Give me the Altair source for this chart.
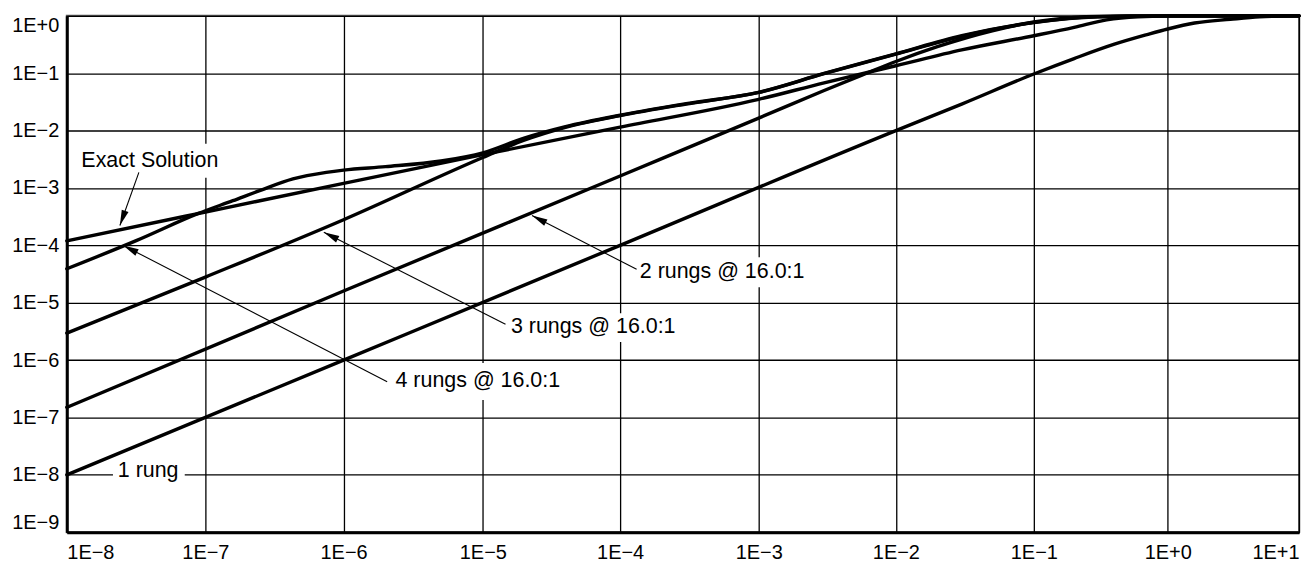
import math
import altair as alt
import pandas as pd

# ---------------- data ----------------
one_x = [1e-8, 1e-6, 1e-4, 1e-2, 3e-2, 0.1, 0.2, 0.4, 0.7, 1.0, 1.6, 3.0, 5.0, 10.0]
one_y = [1e-8, 1e-6, 1e-4, 1e-2, 0.029, 0.097, 0.18, 0.32, 0.47, 0.59, 0.75, 0.87, 0.96, 1.0]

two_x = [1e-8, 1e-6, 1e-4, 1e-3, 3e-3, 6e-3, 1e-2, 2e-2, 5e-2, 0.1, 0.2, 0.5, 1.0, 10.0]
two_y = [1.5e-7, 1.6e-5, 1.62e-3, 0.0165, 0.05, 0.098, 0.16, 0.29, 0.55, 0.78, 0.94, 0.995, 1.0, 1.0]

three_x = [1e-8, 1e-7, 1e-6, 1e-5, 2e-5, 4e-5, 1e-4, 3e-4, 1e-3, 3e-3, 1e-2, 3e-2, 0.1, 0.3, 1.0, 10.0]
three_y = [2.95e-6, 2.8e-5, 2.8e-4, 3.4e-3, 6.8e-3, 0.0114, 0.0182, 0.029, 0.0462, 0.098, 0.215, 0.44, 0.76, 0.96, 1.0, 1.0]

four_x = [1e-8, 3.2e-8, 8.9e-8, 1.58e-7, 2.47e-7, 4.3e-7, 7.5e-7, 1e-6, 2e-6, 5e-6, 1e-5, 2e-5, 4e-5, 1e-4, 3e-4, 1e-3, 3e-3, 1e-2, 3e-2, 0.1, 0.3, 1.0, 10.0]
four_y = [3.9e-5, 1.22e-4, 3.6e-4, 6.0e-4, 9.0e-4, 1.44e-3, 1.87e-3, 2.05e-3, 2.35e-3, 2.95e-3, 4.1e-3, 7.4e-3, 0.0117, 0.0185, 0.0295, 0.0465, 0.099, 0.218, 0.45, 0.77, 0.97, 1.0, 1.0]

exact_x = [1e-8, 1e-7, 1e-6, 1e-5, 1e-4, 1e-3, 3e-3, 1e-2, 3e-2, 0.1, 0.2, 0.35, 0.6, 1.0, 10.0]
exact_y = [1.2e-4, 3.8e-4, 1.2e-3, 3.8e-3, 0.0115, 0.035, 0.068, 0.135, 0.255, 0.45, 0.63, 0.85, 0.96, 0.99, 1.0]

x_ticks = [1e-8, 1e-7, 1e-6, 1e-5, 1e-4, 1e-3, 1e-2, 1e-1, 1e0, 1e1]
y_ticks = [1e-9, 1e-8, 1e-7, 1e-6, 1e-5, 1e-4, 1e-3, 1e-2, 1e-1, 1e0]

# annotation texts and their anchor points (log10 of data values)
ann_text = ["Exact Solution", "1 rung", "4 rungs @ 16.0:1", "3 rungs @ 16.0:1", "2 rungs @ 16.0:1"]
ann_lx = [-7.401, -7.413, -5.036, -4.196, -3.264]
ann_ly = [-2.524, -7.927, -6.373, -5.431, -4.470]
# white boxes behind the texts (log10 extents)
box_x1 = [-7.919, -7.667, -5.694, -4.833, -3.890]
box_x2 = [-6.882, -7.149, -4.375, -3.566, -2.634]
box_y1 = [-2.229, -7.771, -6.051, -5.183, -4.209]
box_y2 = [-2.820, -8.136, -6.694, -5.686, -4.731]
# arrows: tail -> tip (log10)
arr_tail_x = [-7.480, -5.687, -4.835, -3.881]
arr_tail_y = [-2.728, -6.376, -5.374, -4.418]
arr_tip_x = [-7.617, -7.593, -6.143, -4.642]
arr_tip_y = [-3.654, -4.001, -3.770, -3.480]

# ---------------- layout ----------------
W, H = 1236, 518
# pixel position of each decade gridline along x (the reference spacing is slightly uneven)
x_range = [0, 139, 277.6, 417.3, 555, 694, 831.6, 970, 1104.3, 1236]
px_y = H / 9.0


def xpix(lv):
    k = min(max(int(math.floor(lv + 8)), 0), 8)
    f = lv + 8 - k
    return x_range[k] + f * (x_range[k + 1] - x_range[k])


# ---------------- build tables ----------------
rows = []
for name, xs, ys in [("1 rung", one_x, one_y), ("2 rungs", two_x, two_y),
                     ("3 rungs", three_x, three_y), ("4 rungs", four_x, four_y),
                     ("Exact", exact_x, exact_y)]:
    for i, (a, b) in enumerate(zip(xs, ys)):
        rows.append({"series": name, "order": i, "x": a, "y": b})
curves = pd.DataFrame(rows)

labels = pd.DataFrame({"text": ann_text,
                       "x": [10 ** v for v in ann_lx],
                       "y": [10 ** v for v in ann_ly]})
boxes = pd.DataFrame({"x": [10 ** v for v in box_x1], "x2": [10 ** v for v in box_x2],
                      "y": [10 ** v for v in box_y1], "y2": [10 ** v for v in box_y2]})
angles = []
for tx, ty, hx, hy in zip(arr_tail_x, arr_tail_y, arr_tip_x, arr_tip_y):
    dx = xpix(hx) - xpix(tx)
    dy = -(hy - ty) * px_y
    angles.append((math.degrees(math.atan2(dx, -dy)) + 360.0) % 360.0)
arrows = pd.DataFrame({"x": [10 ** v for v in arr_tail_x], "y": [10 ** v for v in arr_tail_y],
                       "x2": [10 ** v for v in arr_tip_x], "y2": [10 ** v for v in arr_tip_y],
                       "angle": angles})

FONT = "Liberation Sans"
label_expr = "'1E' + (datum.value >= 1 ? '+' : '\u2212') + abs(round(log(datum.value) / LN10))"

xscale = alt.Scale(type="log", domain=x_ticks, range=x_range, nice=False)
yscale = alt.Scale(type="log", domain=[1e-9, 1], nice=False)

axis_common = dict(grid=True, ticks=False, domainColor="black", domainWidth=3,
                   gridColor="black", gridWidth=1.3, gridOpacity=1,
                   labelFont=FONT, labelFontSize=20, labelColor="black",
                   labelOverlap=False, labelFlush=True, labelExpr=label_expr, title=None)

xaxis = alt.Axis(values=x_ticks, labelPadding=10, **axis_common)
yaxis = alt.Axis(values=y_ticks, labelPadding=8, **axis_common)

lines = alt.Chart(curves).mark_line(color="black", strokeWidth=3.4, strokeCap="round",
                                    strokeJoin="round", interpolate="monotone").encode(
    x=alt.X("x:Q", scale=xscale, axis=xaxis),
    y=alt.Y("y:Q", scale=yscale, axis=yaxis),
    detail="series:N",
    order="order:Q",
)

box_layer = alt.Chart(boxes).mark_rect(color="white", opacity=1).encode(
    x=alt.X("x:Q", scale=xscale), x2="x2:Q",
    y=alt.Y("y:Q", scale=yscale), y2="y2:Q",
)

shafts = alt.Chart(arrows).mark_rule(color="black", strokeWidth=1.1).encode(
    x=alt.X("x:Q", scale=xscale), x2="x2:Q",
    y=alt.Y("y:Q", scale=yscale), y2="y2:Q",
)

heads = alt.Chart(arrows).mark_point(
    shape="M0,0L-0.6,2.6L0.6,2.6Z", filled=True, color="black", opacity=1, size=144
).encode(
    x=alt.X("x2:Q", scale=xscale),
    y=alt.Y("y2:Q", scale=yscale),
    angle=alt.Angle("angle:Q", scale=None),
)

texts = alt.Chart(labels).mark_text(font=FONT, fontSize=21.5, color="black",
                                    align="center", baseline="middle").encode(
    x=alt.X("x:Q", scale=xscale),
    y=alt.Y("y:Q", scale=yscale),
    text="text:N",
)

chart = alt.layer(box_layer, lines, shafts, heads, texts).properties(
    width=W, height=H,
    autosize=alt.AutoSizeParams(type="none"),
    padding={"left": 59, "top": 7, "right": 5, "bottom": 31},
    background="white",
).configure_view(stroke="#555555", strokeWidth=2)

chart.save("out.html", embed_options={"renderer": "svg", "actions": False})
